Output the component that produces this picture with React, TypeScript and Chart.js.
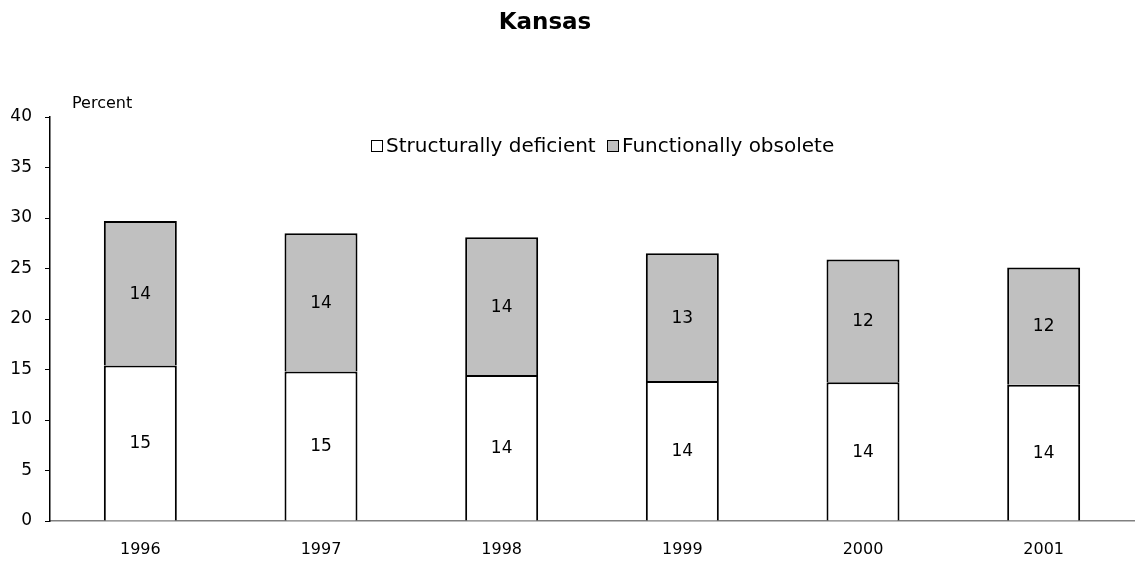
import React, { useEffect, useRef } from "react";
import { Chart, registerables } from "chart.js";

Chart.register(...registerables);

const years = ["1996", "1997", "1998", "1999", "2000", "2001"];
const structurallyDeficient = [15.4, 14.8, 14.45, 13.85, 13.75, 13.5];
const functionallyObsolete = [14.3, 13.7, 13.65, 12.65, 12.15, 11.6];
const yTicks = [0, 5, 10, 15, 20, 25, 30, 35, 40];
const seriesNames = ["Structurally deficient", "Functionally obsolete"];
const chartTitle = "Kansas";
const yLabel = "Percent";

const FONT = "'DejaVu Sans', sans-serif";

export default function App() {
  const ref = useRef<HTMLCanvasElement | null>(null);
  useEffect(() => {
    if (!ref.current) return;
    const overlay = {
      id: "overlay",
      afterDatasetsDraw(chart: any) {
        const ctx = chart.ctx;
        ctx.save();
        // data labels
        ctx.fillStyle = "#000";
        ctx.font = `17px ${FONT}`;
        ctx.textAlign = "center";
        ctx.textBaseline = "middle";
        chart.data.datasets.forEach((ds: any, di: number) => {
          const meta = chart.getDatasetMeta(di);
          meta.data.forEach((bar: any, i: number) => {
            const v = ds.data[i];
            const y = (bar.y + bar.base) / 2;
            ctx.fillText(String(Math.round(v)), bar.x, y + 1);
          });
        });
        // title
        ctx.font = `bold 23px ${FONT}`;
        ctx.fillText(chartTitle, 545, 23);
        // percent label
        ctx.font = `16px ${FONT}`;
        ctx.textAlign = "left";
        ctx.fillText(yLabel, 72, 104);
        // legend
        ctx.font = `20px ${FONT}`;
        const box = 12;
        const cy = 146;
        const fills = ["#ffffff", "#c0c0c0"];
        const boxX = [371, 607];
        for (let k = 0; k < 2; k++) {
          const x = boxX[k];
          ctx.fillStyle = fills[k];
          ctx.fillRect(x, cy - box / 2, box, box);
          ctx.strokeStyle = "#000";
          ctx.lineWidth = 1;
          ctx.strokeRect(x + 0.5, cy - box / 2 + 0.5, box - 1, box - 1);
          ctx.fillStyle = "#000";
          ctx.fillText(seriesNames[k], x + box + 3, cy + 1);
        }
        ctx.restore();
      },
    };
    const chart = new Chart(ref.current, {
      type: "bar",
      data: {
        labels: years,
        datasets: [
          {
            label: seriesNames[0],
            data: structurallyDeficient,
            backgroundColor: "#ffffff",
            borderColor: "#000000",
            borderWidth: 2,
            borderSkipped: "bottom",
          },
          {
            label: seriesNames[1],
            data: functionallyObsolete,
            backgroundColor: "#c0c0c0",
            borderColor: "#000000",
            borderWidth: 2,
            borderSkipped: "bottom",
          },
        ],
      },
      options: {
        animation: false,
        responsive: false,
        maintainAspectRatio: false,
        layout: { padding: { top: 117, right: 4, left: 0, bottom: 0 } },
        plugins: {
          legend: { display: false },
          title: { display: false },
          tooltip: { enabled: false },
        },
        datasets: {
          bar: { categoryPercentage: 1, barPercentage: 0.404 },
        },
        scales: {
          x: {
            stacked: true,
            grid: { display: false, drawTicks: false },
            border: { display: true, color: "#808080", width: 1.5 },
            ticks: {
              color: "#000",
              font: { family: FONT, size: 16 },
              padding: 19,
            },
            afterFit(scale: any) {
              scale.height = 41;
            },
          },
          y: {
            stacked: true,
            min: 0,
            max: 40,
            afterBuildTicks(scale: any) {
              scale.ticks = yTicks.map((v) => ({ value: v }));
            },
            grid: {
              display: true,
              drawOnChartArea: false,
              drawTicks: true,
              tickLength: 5,
              color: "#000",
            },
            border: { display: true, color: "#000", width: 1.5 },
            ticks: {
              color: "#000",
              font: { family: FONT, size: 17 },
              padding: 13,
            },
            afterFit(scale: any) {
              scale.width = 50;
            },
          },
        },
      },
      plugins: [overlay],
    });
    return () => chart.destroy();
  }, []);
  return (
    <div style={{ position: "fixed", left: 0, top: 0, width: 1138, height: 562, background: "#fff" }}>
      <canvas ref={ref} width={1138} height={562} style={{ display: "block" }} />
    </div>
  );
}
